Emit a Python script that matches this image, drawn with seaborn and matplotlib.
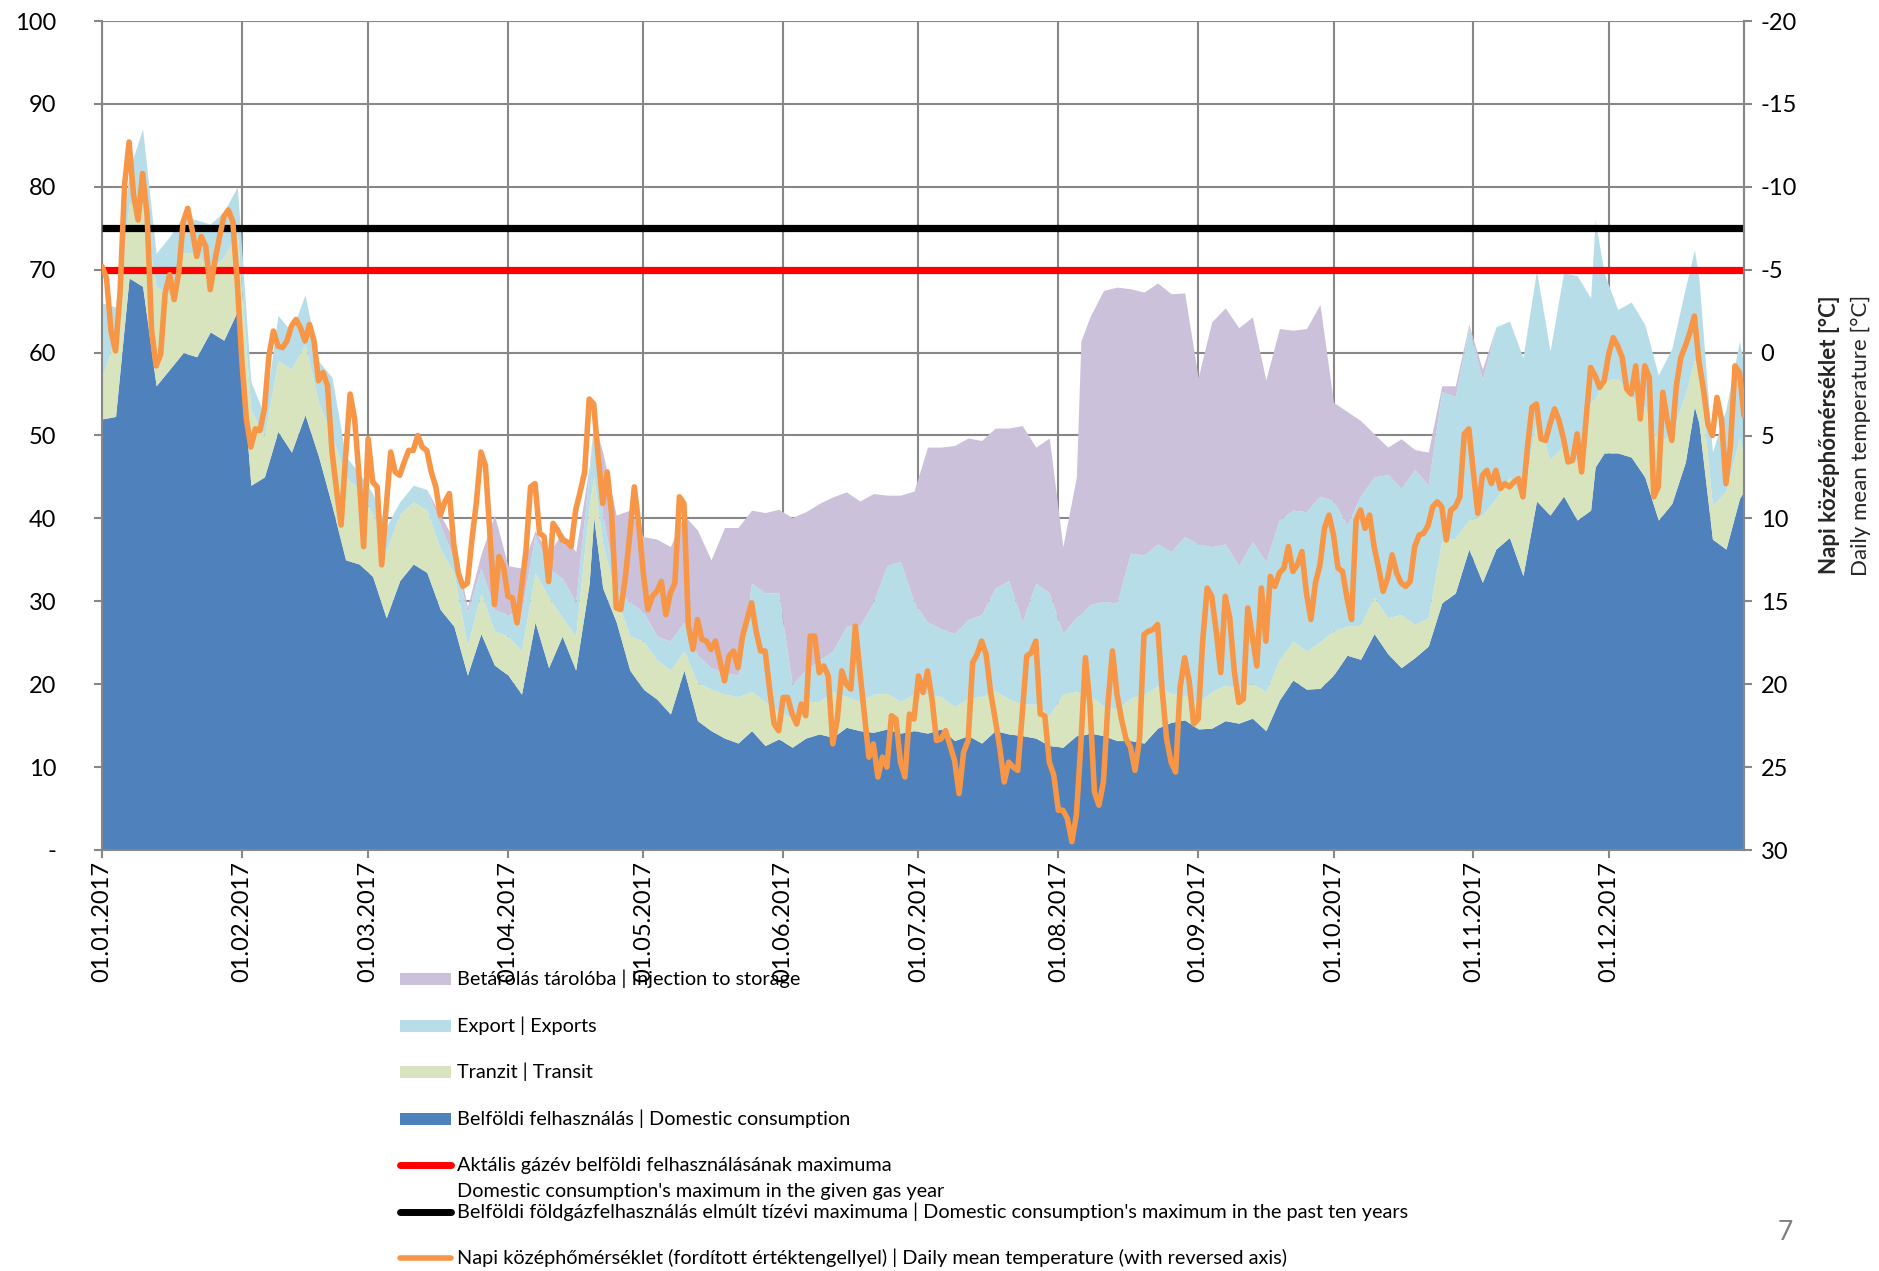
import numpy as np
import pandas as pd
import matplotlib
matplotlib.use("Agg")
import matplotlib.pyplot as plt
import matplotlib.dates as mdates
from matplotlib.patches import Rectangle
from matplotlib.lines import Line2D
import seaborn as sns

# ---------------- data ----------------
# day index (0 = 01.01.2017) of the stacked-area samples
stack_day = [0, 3, 6, 9, 12, 15, 18, 21, 24, 27, 30,
             33, 36, 39, 42, 45, 48, 51, 54, 57,
             60, 63, 66, 69, 72, 75, 78, 81, 84, 87,
             90, 93, 96, 99, 102, 105, 108, 109, 111, 114, 117,
             120, 123, 126, 129, 132, 135, 138, 141, 144, 147,
             150, 153, 156, 159, 162, 165, 168, 171, 174, 177,
             180, 183, 186, 189, 192, 195, 198, 201, 204, 207, 210,
             213, 216, 217, 219, 222, 225, 228, 231, 234, 237, 240,
             243, 246, 249, 252, 255, 258, 261, 264, 267, 270,
             273, 276, 279, 282, 285, 288, 291, 294, 297, 300,
             303, 306, 309, 312, 315, 318, 321, 324, 327, 330, 331,
             333, 336, 339, 342, 345, 348, 351, 353, 354, 357, 360, 363, 364]

# Belföldi felhasználás | Domestic consumption (mcm/day)
domestic = [52, 52.3, 69, 68, 56, 58, 60, 59.5, 62.5, 61.5, 65,
            44, 45, 50.5, 48, 52.5, 47.5, 41.5, 35, 34.5,
            33, 28, 32.5, 34.5, 33.5, 29.0, 27.0, 21.1, 26.1, 22.3,
            21.1, 18.8, 27.5, 22.0, 25.8, 21.7, 32.2, 40.1, 31.6, 27.5, 21.7,
            19.4, 18.2, 16.4, 21.7, 15.6, 14.4, 13.5, 12.9, 14.4, 12.6,
            13.4, 12.4, 13.5, 14.0, 13.6, 14.8, 14.4, 14.2, 14.6, 14.1,
            14.4, 14.1, 14.6, 13.2, 13.8, 12.9, 14.4, 14.0, 13.8, 13.5, 12.6,
            12.4, 13.8, 13.8, 14.1, 13.8, 13.2, 13.2, 12.9, 14.7, 15.4, 15.7,
            14.6, 14.7, 15.6, 15.3, 15.9, 14.4, 18.1, 20.5, 19.4, 19.5,
            21.1, 23.5, 23.0, 26.1, 23.7, 22.0, 23.2, 24.6, 29.8, 31.0,
            36.3, 32.3, 36.3, 37.7, 33.1, 42.1, 40.4, 42.7, 39.8, 41.0, 46.2,
            47.9, 47.9, 47.4, 45.0, 39.8, 41.8, 46.8, 53.5, 51.5, 37.5, 36.3, 42.4, 43.3]

# cumulative level: domestic + Tranzit | Transit
level_transit = [57, 62, 78, 78, 68, 67, 72, 72, 70, 71.5, 74.5,
                 53, 50, 59, 58, 61, 54, 50, 45, 43.5,
                 40.5, 36, 40.5, 42, 41, 36.3, 33.4, 24.6, 31.0, 26.4,
                 25.8, 24.0, 33.4, 30.5, 28.1, 25.8, 41.5, 45.0, 36.9, 30.5, 25.8,
                 25.2, 22.9, 21.7, 24.0, 20.2, 19.4, 18.8, 18.5, 19.1, 17.9,
                 16.7, 15.9, 17.9, 17.9, 19.1, 18.5, 17.9, 18.8, 18.9, 17.9,
                 18.8, 18.8, 18.5, 17.3, 18.3, 18.5, 19.2, 18.2, 17.6, 17.6, 16.2,
                 18.8, 19.1, 19.1, 18.7, 17.3, 17.0, 18.3, 18.8, 19.8, 18.9, 18.6,
                 17.8, 19.1, 19.9, 19.5, 20.1, 19.1, 22.9, 25.2, 24.0, 25.1,
                 26.4, 27.0, 27.1, 30.5, 28.0, 28.4, 27.2, 28.0, 37.3, 37.6,
                 39.8, 40.4, 42.4, 45.0, 42.4, 52.1, 47.1, 48.8, 46.8, 54.1, 54.4,
                 56.7, 56.9, 54.7, 53.5, 49.1, 50.2, 55.0, 59.1, 57.9, 41.5, 43.3, 49.7, 47.4]

# cumulative level: + Export | Exports
level_export = [66, 65.5, 82, 87, 72, 74, 76.5, 76, 75.5, 77, 80,
                56.5, 52.5, 64.5, 62.5, 67, 59, 57, 47.5, 45.5,
                43, 39, 42, 44, 43.5, 39.2, 35.1, 28.7, 34.0, 29.0,
                28.4, 28.7, 38.0, 34.0, 32.8, 29.9, 45.6, 51.5, 40.4, 31.6, 29.9,
                28.7, 25.8, 25.2, 27.5, 23.5, 22.0, 21.4, 21.1, 32.2, 31.0,
                31.0, 20.0, 21.7, 22.9, 24.0, 27.0, 27.0, 29.9, 34.3, 34.8,
                29.9, 27.5, 26.7, 26.1, 27.8, 28.4, 31.6, 32.5, 27.5, 32.2, 31.0,
                26.1, 28.1, 28.4, 29.6, 30.0, 29.8, 35.8, 35.6, 36.9, 36.0, 37.8,
                36.9, 36.6, 36.9, 34.3, 37.2, 34.8, 39.8, 41.0, 40.8, 42.7,
                42.1, 39.2, 42.7, 45.0, 45.3, 43.6, 45.9, 44.0, 55.3, 54.7,
                63.1, 56.7, 63.1, 63.8, 59.4, 69.9, 60.2, 69.6, 69.3, 66.6, 76.0,
                69.6, 65.2, 66.1, 63.4, 57.3, 60.5, 67.8, 72.4, 69.0, 48.0, 53.2, 61.4, 58.2]

# cumulative level: + Betárolás tárolóba | Injection to storage
level_storage = [66, 65.5, 82, 87, 72, 74, 76.5, 76, 75.5, 77, 80,
                 56.5, 52.5, 64.5, 62.5, 67, 59, 57, 47.5, 45.5,
                 43, 39, 42, 44, 43.5, 40.4, 37.5, 29.3, 35.7, 40.4,
                 34.3, 34.0, 38.5, 35.7, 38.3, 36.0, 46.2, 51.7, 48.0, 40.4, 41.0,
                 37.8, 37.5, 36.6, 40.4, 38.6, 35.0, 38.9, 38.9, 41.0, 40.7,
                 41.1, 40.1, 40.8, 41.8, 42.6, 43.2, 42.1, 43.0, 42.8, 42.8,
                 43.3, 48.6, 48.6, 48.8, 49.7, 49.4, 50.9, 50.9, 51.2, 48.6, 49.7,
                 36.6, 45.0, 61.4, 64.3, 67.5, 67.9, 67.7, 67.3, 68.4, 67.1, 67.2,
                 57.0, 63.7, 65.4, 63.0, 64.3, 56.7, 62.9, 62.7, 62.9, 65.8,
                 54.0, 52.9, 51.8, 50.2, 48.6, 49.6, 48.3, 48.0, 56.0, 56.0,
                 63.4, 58.0, 63.1, 63.8, 59.4, 69.9, 60.2, 69.6, 69.3, 66.6, 76.0,
                 69.6, 65.2, 66.1, 63.4, 57.3, 60.5, 67.8, 72.4, 69.0, 48.0, 53.2, 61.4, 58.2]

# Napi középhőmérséklet | Daily mean temperature (°C), one value per day of 2017
temperature = [
    -5.2, -4.5, -1.3, -0.1, -3.6, -10.1, -12.7, -9.5, -8.0, -10.8,
    -8.3, -1.3, 0.8, 0.1, -3.6, -4.7, -3.2, -4.8, -7.9, -8.7,
    -7.4, -5.8, -7.0, -6.4, -3.8, -5.5, -6.9, -8.2, -8.6, -7.9,
    -4.2, 0.5, 4.0, 5.7, 4.6, 4.7, 3.4, 0.2, -1.3, -0.4,
    -0.3, -0.7, -1.6, -2.0, -1.5, -0.7, -1.7, -0.7, 1.7, 1.2,
    2.0, 6.0, 8.3, 10.4, 6.3, 2.5, 4.0, 7.5, 11.7, 5.2,
    7.8, 8.1, 12.8, 9.3, 6.0, 7.2, 7.4, 6.6, 5.9, 5.9,
    5.0, 5.7, 5.9, 7.2, 8.1, 9.8, 9.0, 8.5, 11.6, 13.3,
    14.1, 13.9, 11.3, 9.0, 6.0, 6.8, 11.0, 15.2, 12.3, 12.9,
    14.7, 14.8, 16.3, 14.2, 11.9, 8.1, 7.9, 10.9, 11.1, 13.8,
    10.3, 10.7, 11.3, 11.4, 11.7, 9.5, 8.4, 7.2, 2.8, 3.1,
    6.3, 9.1, 7.2, 9.8, 15.4, 15.5, 13.6, 11.0, 8.1, 10.4,
    13.3, 15.5, 14.7, 14.4, 13.8, 15.8, 14.5, 13.9, 8.7, 9.1,
    16.5, 17.9, 16.1, 17.3, 17.4, 17.9, 17.4, 18.6, 19.8, 18.3,
    18.0, 19.0, 17.1, 16.1, 15.1, 16.8, 18.0, 18.0, 20.3, 22.4,
    22.8, 20.8, 20.8, 21.8, 22.4, 21.2, 21.9, 17.1, 17.1, 19.3,
    18.9, 19.5, 23.6, 22.1, 19.2, 20.0, 20.3, 16.5, 19.2, 21.8,
    24.4, 23.6, 25.6, 24.4, 25.0, 21.9, 22.1, 24.7, 25.6, 21.8,
    22.1, 19.5, 20.5, 19.2, 20.9, 23.4, 23.3, 22.8, 23.7, 24.6,
    26.6, 24.1, 23.4, 18.7, 18.2, 17.4, 18.2, 20.5, 22.1, 23.8,
    25.9, 24.7, 25.0, 25.2, 21.8, 18.3, 18.1, 17.4, 21.8, 21.9,
    24.7, 25.5, 27.6, 27.6, 28.1, 29.5, 27.9, 23.6, 18.4, 21.2,
    26.5, 27.3, 25.9, 21.2, 18.0, 20.6, 22.1, 23.3, 23.8, 25.2,
    23.3, 17.0, 16.8, 16.7, 16.4, 20.3, 23.3, 24.7, 25.3, 20.2,
    18.4, 19.8, 22.4, 22.1, 17.4, 14.2, 14.7, 16.8, 19.3, 14.7,
    16.0, 19.2, 21.1, 20.9, 15.4, 17.1, 18.9, 14.2, 17.4, 13.5,
    14.1, 13.3, 13.0, 11.7, 13.2, 12.8, 12.0, 14.5, 16.1, 13.9,
    12.8, 10.6, 9.8, 11.0, 13.0, 13.2, 14.8, 16.1, 10.1, 9.5,
    10.6, 9.8, 11.7, 13.0, 14.4, 13.6, 12.2, 13.3, 13.9, 14.1,
    13.8, 11.7, 11.0, 10.9, 10.4, 9.3, 9.0, 9.3, 11.3, 9.5,
    9.3, 8.7, 4.9, 4.6, 7.2, 9.7, 7.4, 7.1, 7.9, 7.1,
    8.2, 7.9, 8.1, 7.8, 7.6, 8.7, 5.7, 3.3, 3.1, 5.2,
    5.3, 4.3, 3.4, 4.1, 5.2, 6.6, 6.5, 4.9, 7.2, 4.0,
    0.9, 1.4, 2.1, 1.7, 0.1, -0.9, -0.4, 0.3, 2.2, 2.5,
    0.8, 4.0, 0.8, 1.5, 8.7, 8.1, 2.4, 4.1, 5.3, 2.0,
    0.3, -0.4, -1.2, -2.2, 0.5, 2.2, 4.3, 5.0, 2.7, 4.0,
    7.9, 5.6, 0.8, 1.2, 3.8]

max_gas_year = 70      # Aktális gázév belföldi felhasználásának maximuma
max_ten_years = 75     # elmúlt tízévi maximum

y_left_ticks = [0, 10, 20, 30, 40, 50, 60, 70, 80, 90, 100]
y_left_labels = ["-", "10", "20", "30", "40", "50", "60", "70", "80", "90", "100"]
y_right_ticks = [-20, -15, -10, -5, 0, 5, 10, 15, 20, 25, 30]

legend_labels = [
    "Betárolás tárolóba | Injection to storage",
    "Export | Exports",
    "Tranzit | Transit",
    "Belföldi felhasználás | Domestic consumption",
    "Aktális gázév belföldi felhasználásának maximuma",
    "Domestic consumption's maximum in the given gas year",
    "Belföldi földgázfelhasználás elmúlt tízévi maximuma | Domestic consumption's maximum in the past ten years",
    "Napi középhőmérséklet (fordított értéktengellyel) | Daily mean temperature (with reversed axis)",
]

# ---------------- styling ----------------
C_DOM = "#4F81BD"
C_TRA = "#D7E4BD"
C_EXP = "#B7DEE8"
C_STO = "#CCC1DA"
C_RED = "#FF0000"
C_BLK = "#000000"
C_ORA = "#F79646"
C_GRID = "#878787"

sns.set_theme(style="white")
plt.rcParams["font.family"] = ["Lato", "DejaVu Sans"]

W, H = 1879, 1271
fig = plt.figure(figsize=(W / 100, H / 100), dpi=100)

def fx(px):
    return px / W

def fy(py):
    return 1 - py / H

ax = fig.add_axes([fx(102), fy(850), fx(1744) - fx(102), fy(21) - fy(850)])

start = pd.Timestamp("2017-01-01")
sdates = start + pd.to_timedelta(stack_day, unit="D")
dom = np.array(domestic)
tra = np.array(level_transit) - dom
exp_ = np.array(level_export) - np.array(level_transit)
sto = np.array(level_storage) - np.array(level_export)

ax.stackplot(sdates, dom, tra, exp_, sto,
             colors=[C_DOM, C_TRA, C_EXP, C_STO], linewidth=0, zorder=2)
ax.axhline(max_ten_years, color=C_BLK, lw=5.2, zorder=3, solid_capstyle="butt")
ax.axhline(max_gas_year, color=C_RED, lw=5.2, zorder=3, solid_capstyle="butt")

ax.set_ylim(0, 100)
ax.set_xlim(start, start + pd.Timedelta(days=364))
ax.set_yticks(y_left_ticks)
ax.set_yticklabels(y_left_labels)
ax.xaxis.set_major_locator(mdates.MonthLocator())
ax.xaxis.set_major_formatter(mdates.DateFormatter("%d.%m.%Y"))
ax.set_axisbelow(True)
ax.grid(True, color=C_GRID, lw=1.5, zorder=0)
ax.tick_params(axis="y", which="major", left=True, length=6, width=1.5,
               color=C_GRID, pad=27, labelsize=17, labelcolor="black")
ax.tick_params(axis="x", which="major", bottom=True, length=6, width=1.5,
               color=C_GRID, pad=2, labelsize=17, labelcolor="black",
               labelrotation=90)
for s in ["top"]:
    ax.spines[s].set_visible(False)
for s in ["left", "bottom", "right"]:
    ax.spines[s].set_color(C_GRID)
    ax.spines[s].set_linewidth(1.5)
ax.set_xlabel("")
ax.set_ylabel("")

# temperature on a reversed secondary axis
ax2 = ax.twinx()
tdates = start + pd.to_timedelta(np.arange(len(temperature)), unit="D")
sns.lineplot(x=tdates, y=temperature, ax=ax2, color=C_ORA, lw=4.0, zorder=5)
ax2.set_ylim(30, -20)
ax2.set_yticks(y_right_ticks)
ax2.set_yticklabels([str(t) for t in y_right_ticks])
ax2.set_xlim(start, start + pd.Timedelta(days=364))
ax2.grid(False)
ax2.set_xlabel("")
ax2.set_ylabel("")
ax2.tick_params(axis="y", right=True, length=6, width=1.5, color=C_GRID,
                pad=6, labelsize=17, labelcolor="black")
for s in ["top", "left", "bottom"]:
    ax2.spines[s].set_visible(False)
ax2.spines["right"].set_color(C_GRID)
ax2.spines["right"].set_linewidth(1.5)

# right axis title (two lines, bold + regular)
fig.text(fx(1829), fy(435), "Napi középhőmérséklet [°C]", rotation=90,
         fontsize=16, fontweight="bold", ha="center", va="center")
fig.text(fx(1861), fy(435), "Daily mean temperature [°C]", rotation=90,
         fontsize=16, ha="center", va="center")

# ---------------- legend (drawn below the plot) ----------------
hx0, hx1, tx = 400, 451, 457
entries = [
    ("patch", C_STO, 979, legend_labels[0]),
    ("patch", C_EXP, 1026, legend_labels[1]),
    ("patch", C_TRA, 1072, legend_labels[2]),
    ("patch", C_DOM, 1119, legend_labels[3]),
    ("line", C_RED, 1165, legend_labels[4]),
    (None, None, 1192, legend_labels[5]),
    ("line", C_BLK, 1212, legend_labels[6]),
    ("line", C_ORA, 1258, legend_labels[7]),
]
for kind, col, ypx, lab in entries:
    if kind == "patch":
        fig.add_artist(Rectangle((fx(hx0), fy(ypx + 6)), fx(hx1) - fx(hx0),
                                 fy(ypx - 6) - fy(ypx + 6),
                                 transform=fig.transFigure, facecolor=col,
                                 edgecolor="none"))
    elif kind == "line":
        fig.add_artist(Line2D([fx(hx0), fx(hx1)], [fy(ypx), fy(ypx)],
                              transform=fig.transFigure, color=col,
                              lw=5.0 if col != C_ORA else 4.0,
                              solid_capstyle="round"))
    fig.text(fx(tx), fy(ypx), lab, fontsize=14.3, ha="left", va="center",
             color="black")

fig.text(fx(1785), fy(1232), "7", fontsize=19, color="#7F7F7F",
         ha="center", va="center")

fig.savefig("out.png", dpi=100)
